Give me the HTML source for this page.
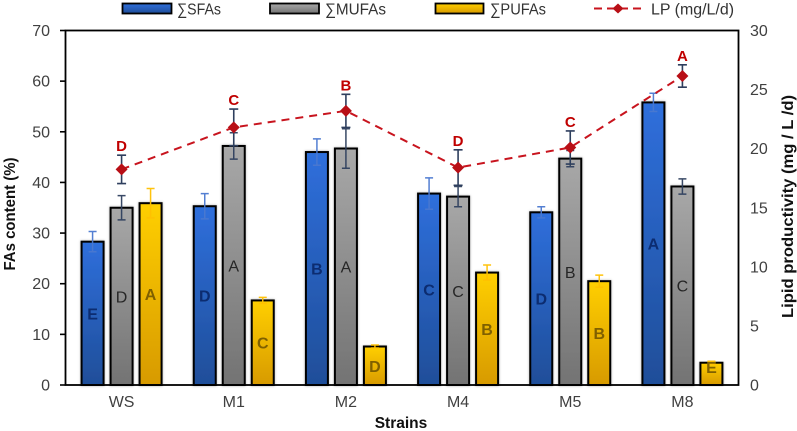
<!DOCTYPE html>
<html lang="en">
<head>
<meta charset="utf-8">
<title>FAs content and lipid productivity by strain</title>
<style>
html,body{margin:0;padding:0;background:#fff;width:797px;height:431px;overflow:hidden}
svg{display:block;font-family:"Liberation Sans",sans-serif;filter:blur(0.3px)}
</style>
</head>
<body>
<svg id="chart" xmlns="http://www.w3.org/2000/svg" width="797" height="431" viewBox="0 0 797 431">
<defs>
<linearGradient id="g-sfa" x1="0" y1="0" x2="0" y2="1"><stop offset="0" stop-color="#2f6fdc"/><stop offset="1" stop-color="#1f4e99"/></linearGradient>
<linearGradient id="g-mufa" x1="0" y1="0" x2="0" y2="1"><stop offset="0" stop-color="#a8a8a8"/><stop offset="1" stop-color="#737373"/></linearGradient>
<linearGradient id="g-pufa" x1="0" y1="0" x2="0" y2="1"><stop offset="0" stop-color="#ffcf00"/><stop offset="1" stop-color="#d79a00"/></linearGradient>
<filter id="soft" x="-30%" y="-5%" width="160%" height="110%"><feDropShadow dx="0" dy="0" stdDeviation="1.2" flood-color="#000" flood-opacity="0.3"/></filter>
</defs>

<g>
<rect x="122.5" y="3.5" width="49" height="10" fill="url(#g-sfa)" stroke="#000" stroke-width="1.8"/>
<text x="177" y="14.5" font-size="16" fill="#333" textLength="44" lengthAdjust="spacingAndGlyphs">∑SFAs</text>
<rect x="270" y="3.5" width="49" height="10" fill="url(#g-mufa)" stroke="#000" stroke-width="1.8"/>
<text x="325" y="14.5" font-size="16" fill="#333" textLength="61" lengthAdjust="spacingAndGlyphs">∑MUFAs</text>
<rect x="435.5" y="3.5" width="48" height="10" fill="url(#g-pufa)" stroke="#000" stroke-width="1.8"/>
<text x="490" y="14.5" font-size="16" fill="#333" textLength="56" lengthAdjust="spacingAndGlyphs">∑PUFAs</text>
<line x1="594" y1="8.5" x2="642" y2="8.5" stroke="#c8141e" stroke-width="2" stroke-dasharray="8 5"/>
<polygon points="618,3.5 623.5,8.5 618,13.5 612.5,8.5" fill="#b80f16"/>
<text x="651" y="14.5" font-size="16" fill="#333" textLength="83" lengthAdjust="spacingAndGlyphs">LP (mg/L/d)</text>
</g>

<g id="bars"></g>
<rect x="65.5" y="30.5" width="673" height="354.5" fill="none" stroke="#000" stroke-width="1.8"/>
<g id="ticks"></g>
<g id="errors"></g>
<g id="letters"></g>
<g id="lp"></g>

<text x="401" y="428" font-size="15.5" font-weight="bold" text-anchor="middle" fill="#111">Strains</text>
<text transform="translate(15,214) rotate(-90)" font-size="15.5" font-weight="bold" text-anchor="middle" fill="#111" textLength="113" lengthAdjust="spacingAndGlyphs">FAs content (%)</text>
<text transform="translate(793,206.5) rotate(-90)" font-size="15.5" font-weight="bold" text-anchor="middle" fill="#111" textLength="223" lengthAdjust="spacingAndGlyphs">Lipid productivity (mg / L /d)</text>
</svg>

<script>
const strains = ['WS', 'M1', 'M2', 'M4', 'M5', 'M8'];
const sfaValues = [28.3, 35.3, 46.0, 37.8, 34.1, 55.8];
const mufaValues = [35.0, 47.2, 46.7, 37.2, 44.7, 39.2];
const pufaValues = [35.9, 16.7, 7.6, 22.2, 20.5, 4.4];
const sfaErrors = [2.0, 2.5, 2.6, 3.1, 1.1, 1.8];
const mufaErrors = [2.4, 2.6, 3.9, 2.0, 1.6, 1.5];
const pufaErrors = [2.9, 0.6, 0.3, 1.5, 1.2, 0.3];
const sfaLetters = ['E', 'D', 'B', 'C', 'D', 'A'];
const mufaLetters = ['D', 'A', 'A', 'C', 'B', 'C'];
const pufaLetters = ['A', 'C', 'D', 'B', 'B', 'E'];
const lpValues = [18.25, 21.8, 23.2, 18.4, 20.1, 26.15];
const lpErrors = [1.2, 1.55, 1.4, 1.5, 1.4, 0.95];
const lpLetters = ['D', 'C', 'B', 'D', 'C', 'A'];
const leftTicks = [0, 10, 20, 30, 40, 50, 60, 70];
const rightTicks = [0, 5, 10, 15, 20, 25, 30];

const NS = 'http://www.w3.org/2000/svg';
const plotLeft = 65.5, plotRight = 738.5, plotTop = 30.5, plotBottom = 385;
const leftMax = 70, rightMax = 30;
const barWidth = 22, barGap = 29;
const yLeft = v => plotBottom - (v / leftMax) * (plotBottom - plotTop);
const yRight = v => plotBottom - (v / rightMax) * (plotBottom - plotTop);
const xCenter = i => plotLeft + (i + 0.5) * (plotRight - plotLeft) / strains.length;

function make(tag, parent, attrs, text) {
  const el = document.createElementNS(NS, tag);
  for (const k in attrs) el.setAttribute(k, attrs[k]);
  if (text !== undefined) el.textContent = text;
  parent.appendChild(el);
  return el;
}

const barsG = document.getElementById('bars');
const ticksG = document.getElementById('ticks');
const errorsG = document.getElementById('errors');
const lettersG = document.getElementById('letters');
const lpG = document.getElementById('lp');

leftTicks.forEach(t => {
  const y = yLeft(t);
  const mark = make('line', ticksG, {x1: 60, x2: plotLeft, y1: y, y2: y, stroke: '#000', 'stroke-width': 1.6});
  
  
  const label = make('text', ticksG, {x: 50, y: y + 5.5, 'font-size': 16, fill: '#404040', 'text-anchor': 'end'}, t);
  
  
});

rightTicks.forEach(t => {
  const label = make('text', ticksG, {x: 750, y: yRight(t) + 5.5, 'font-size': 16, fill: '#404040'}, t);
  
  
});

strains.forEach((s, i) => {
  const label = make('text', ticksG, {x: xCenter(i), y: 407, 'font-size': 16, fill: '#404040', 'text-anchor': 'middle'}, s);
  
  
});

function drawSeries(name, values, errs, marks, offset, fill, errColor, letterColor, letterWeight) {
  values.forEach((v, i) => {
    const cx = xCenter(i) + offset;
    const top = yLeft(v);
    const bar = make('rect', barsG, {x: cx - barWidth / 2, y: top, width: barWidth, height: plotBottom - top, fill: fill, stroke: '#000', 'stroke-width': 2, filter: 'url(#soft)'});
    
    

    const hi = yLeft(v + errs[i]), lo = yLeft(v - errs[i]);
    const err = make('path', errorsG, {d: `M${cx} ${hi}V${lo}M${cx - 4} ${hi}H${cx + 4}M${cx - 4} ${lo}H${cx + 4}`, fill: 'none', stroke: errColor, 'stroke-width': 1.5, opacity: 0.95});
    
    

    const letterY = Math.min((top + plotBottom) / 2, plotBottom - 18);
    const letter = make('text', lettersG, {x: cx, y: letterY + 6, 'font-size': 16, 'font-weight': letterWeight, fill: letterColor, 'text-anchor': 'middle'}, marks[i]);
    
    
  });
}

drawSeries('sfa', sfaValues, sfaErrors, sfaLetters, -barGap, 'url(#g-sfa)', '#4a78d0', '#0c2c70', 'bold');
drawSeries('mufa', mufaValues, mufaErrors, mufaLetters, 0, 'url(#g-mufa)', '#2e3f5e', '#262626', 'normal');
drawSeries('pufa', pufaValues, pufaErrors, pufaLetters, barGap, 'url(#g-pufa)', '#ffc000', '#7f6000', 'bold');

const lpLine = make('polyline', lpG, {points: lpValues.map((v, i) => xCenter(i) + ',' + yRight(v)).join(' '), fill: 'none', stroke: '#c8141e', 'stroke-width': 2, 'stroke-dasharray': '8 6'});



lpValues.forEach((v, i) => {
  const cx = xCenter(i), cy = yRight(v);
  const hi = yRight(v + lpErrors[i]), lo = yRight(v - lpErrors[i]);
  const err = make('path', lpG, {d: `M${cx} ${hi}V${lo}M${cx - 4.5} ${hi}H${cx + 4.5}M${cx - 4.5} ${lo}H${cx + 4.5}`, fill: 'none', stroke: '#2e3f5e', 'stroke-width': 1.6});
  
  

  const point = make('polygon', lpG, {points: `${cx},${cy - 6} ${cx + 6},${cy} ${cx},${cy + 6} ${cx - 6},${cy}`, fill: '#b80f16'});
  
  

  const letter = make('text', lpG, {x: cx, y: hi - 4, 'font-size': 15, 'font-weight': 'bold', fill: '#c00000', 'text-anchor': 'middle'}, lpLetters[i]);
  
  
});
</script>
</body>
</html>
